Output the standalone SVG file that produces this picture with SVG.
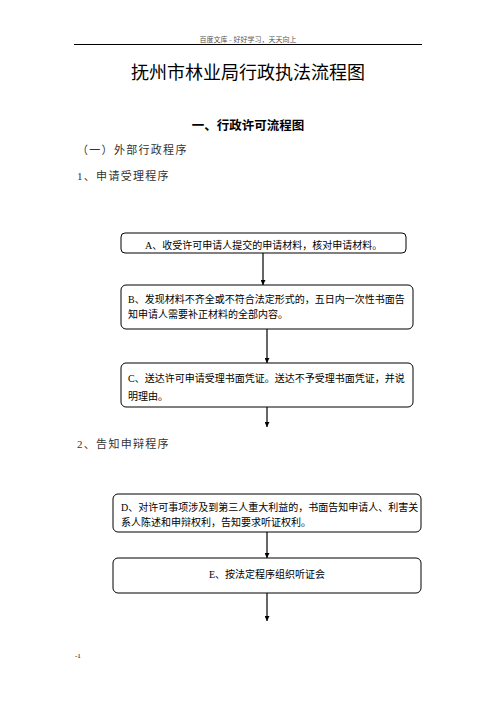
<svg xmlns="http://www.w3.org/2000/svg" width="496" height="702" viewBox="0 0 496 702">
<defs>
<marker id="arr" viewBox="0 0 10 10" refX="10" refY="5" markerWidth="5" markerHeight="5" orient="auto" markerUnits="userSpaceOnUse">
<path d="M0,0 L10,5 L0,10 z" fill="#000"/>
</marker>
</defs>
<style>
.t{font-family:"Liberation Serif","Noto Sans CJK SC",serif;fill:#000}
.box{fill:#fff;stroke:#000;stroke-width:1}
.bt{font-family:"Liberation Serif","Noto Sans CJK SC",serif;font-size:10px;fill:#000}
.h{font-family:"Liberation Serif","Noto Sans CJK SC",serif;font-size:11px;letter-spacing:1.3px;fill:#333}
.c{stroke:#000;stroke-width:1.2;fill:none;marker-end:url(#arr)}
</style>
<rect width="496" height="702" fill="#fff"/>
<g id="header">
<text class="t" x="248" y="42" font-size="7" fill="#555" text-anchor="middle" style="fill:#555">百度文库 - 好好学习，天天向上</text>
<line x1="74" y1="44.5" x2="422" y2="44.5" stroke="#000" stroke-width="1.2"/>
</g>
<g id="title">
<text class="t" x="248" y="79" font-size="18" text-anchor="middle" style="font-family:'Noto Sans CJK SC',sans-serif">抚州市林业局行政执法流程图</text>
<text class="t" x="248" y="130" font-size="12.5" font-weight="bold" text-anchor="middle" style="font-family:'Noto Sans CJK SC',sans-serif">一、行政许可流程图</text>
<text class="h" x="77" y="154">（一）外部行政程序</text>
<text class="h" x="77" y="180">1、申请受理程序</text>
<text class="h" x="77" y="448">2、告知申辩程序</text>
</g>
<g id="connectors">
<line class="c" x1="263" y1="253" x2="263" y2="285"/>
<line class="c" x1="267" y1="329" x2="267" y2="363"/>
<line class="c" x1="267" y1="407" x2="267" y2="427"/>
<line class="c" x1="267" y1="532" x2="267" y2="558"/>
<line class="c" x1="267" y1="593" x2="267" y2="621"/>
</g>
<g id="nodeA">
<rect class="box" x="121" y="233" width="285" height="20" rx="4"/>
<text class="bt" x="145" y="249">A、收受许可申请人提交的申请材料，核对申请材料。</text>
</g>
<g id="nodeB">
<rect class="box" x="121" y="285" width="292" height="44" rx="5"/>
<text class="bt" x="128" y="303">B、发现材料不齐全或不符合法定形式的，五日内一次性书面告</text>
<text class="bt" x="128" y="318">知申请人需要补正材料的全部内容。</text>
</g>
<g id="nodeC">
<rect class="box" x="121" y="363" width="292" height="44" rx="5"/>
<text class="bt" x="128" y="382">C、送达许可申请受理书面凭证。送达不予受理书面凭证，并说</text>
<text class="bt" x="128" y="400">明理由。</text>
</g>
<g id="nodeD">
<rect class="box" x="113" y="494" width="308" height="38" rx="5"/>
<text class="bt" x="121" y="511">D、对许可事项涉及到第三人重大利益的，书面告知申请人、利害关</text>
<text class="bt" x="121" y="526">系人陈述和申辩权利，告知要求听证权利。</text>
</g>
<g id="nodeE">
<rect class="box" x="113" y="558" width="308" height="35" rx="5"/>
<text class="bt" x="267" y="578" text-anchor="middle">E、按法定程序组织听证会</text>
</g>
<g id="footer">
<text class="t" x="75" y="658" font-size="7">-1</text>
</g>
</svg>
